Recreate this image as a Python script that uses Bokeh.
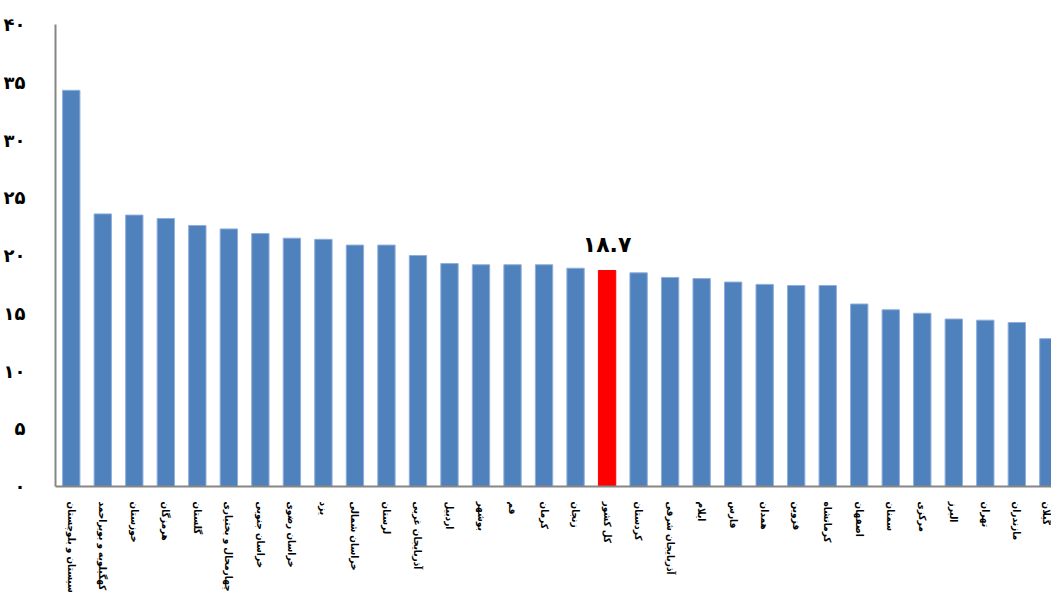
from bokeh.plotting import figure
from bokeh.models import Range1d, FixedTicker, ColumnDataSource
from bokeh.core.properties import value
from bokeh.embed import file_html
from bokeh.resources import INLINE

provinces = ["سیستان و بلوچستان", "کهگیلویه و بویراحمد", "خوزستان", "هرمزگان", "گلستان",
             "چهارمحال و بختیاری", "خراسان جنوبی", "خراسان رضوی", "یزد", "خراسان شمالی",
             "لرستان", "آذربایجان غربی", "اردبیل", "بوشهر", "قم", "کرمان", "زنجان",
             "کل کشور", "کردستان", "آذربایجان شرقی", "ایلام", "فارس", "همدان", "قزوین",
             "کرمانشاه", "اصفهان", "سمنان", "مرکزی", "البرز", "تهران", "مازندران", "گیلان"]
values = [34.3, 23.6, 23.5, 23.2, 22.6, 22.3, 21.9, 21.5, 21.4, 20.9, 20.9, 20.0, 19.3,
          19.2, 19.2, 19.2, 18.9, 18.7, 18.5, 18.1, 18.0, 17.7, 17.5, 17.4, 17.4, 15.8,
          15.3, 15.0, 14.5, 14.4, 14.2, 12.8]
highlight = "کل کشور"
y_ticks = [0, 5, 10, 15, 20, 25, 30, 35, 40]

fa = str.maketrans("0123456789", "۰۱۲۳۴۵۶۷۸۹")

idx = list(range(len(provinces)))
colors = ["#FF0000" if c == highlight else "#4F81BD" for c in provinces]
edges = ["#FF0000" if c == highlight else "#8FAEDB" for c in provinces]
src = ColumnDataSource(dict(x=idx, top=values, color=colors, edge=edges))

p = figure(x_range=Range1d(-0.5, len(provinces) - 0.9),
           y_range=Range1d(0, 40),
           width=1051, height=595, output_backend="svg", toolbar_location=None,
           min_border_left=54, min_border_right=0, min_border_top=24, min_border_bottom=100)
p.outline_line_color = None
p.xgrid.visible = False
p.ygrid.visible = False

p.vbar(x="x", top="top", width=0.55, source=src, fill_color="color", line_color="edge", line_width=1)

hi_idx = provinces.index(highlight)
p.text(x=[hi_idx], y=[values[hi_idx]], text=[str(values[hi_idx]).translate(fa)],
       y_offset=-14, text_align="center", text_baseline="bottom",
       text_font=value("DejaVu Sans"), text_font_style="bold", text_font_size="22px",
       text_color="#000000")

ya = p.yaxis[0]
ya.ticker = FixedTicker(ticks=y_ticks)
ya.major_label_overrides = {t: str(t).translate(fa) for t in y_ticks}
ya.major_tick_line_color = None
ya.minor_tick_line_color = None
ya.major_label_standoff = 24
ya.axis_line_color = "#868686"
ya.axis_line_width = 2
ya.major_label_text_font = "DejaVu Sans"
ya.major_label_text_font_style = "bold"
ya.major_label_text_font_size = "18px"
ya.major_label_text_color = "#000000"

xa = p.xaxis[0]
xa.ticker = FixedTicker(ticks=idx, minor_ticks=[])
xa.major_label_overrides = {i: name for i, name in zip(idx, provinces)}
xa.major_label_orientation = "vertical"
xa.major_tick_line_color = None
xa.minor_tick_line_color = None
xa.major_label_standoff = 9
xa.axis_line_color = "#868686"
xa.axis_line_width = 2
xa.major_label_text_font = "DejaVu Sans Condensed"
xa.major_label_text_font_style = "bold"
xa.major_label_text_font_size = "10px"
xa.major_label_text_color = "#000000"

open("out.html", "w").write(file_html(p, INLINE))
